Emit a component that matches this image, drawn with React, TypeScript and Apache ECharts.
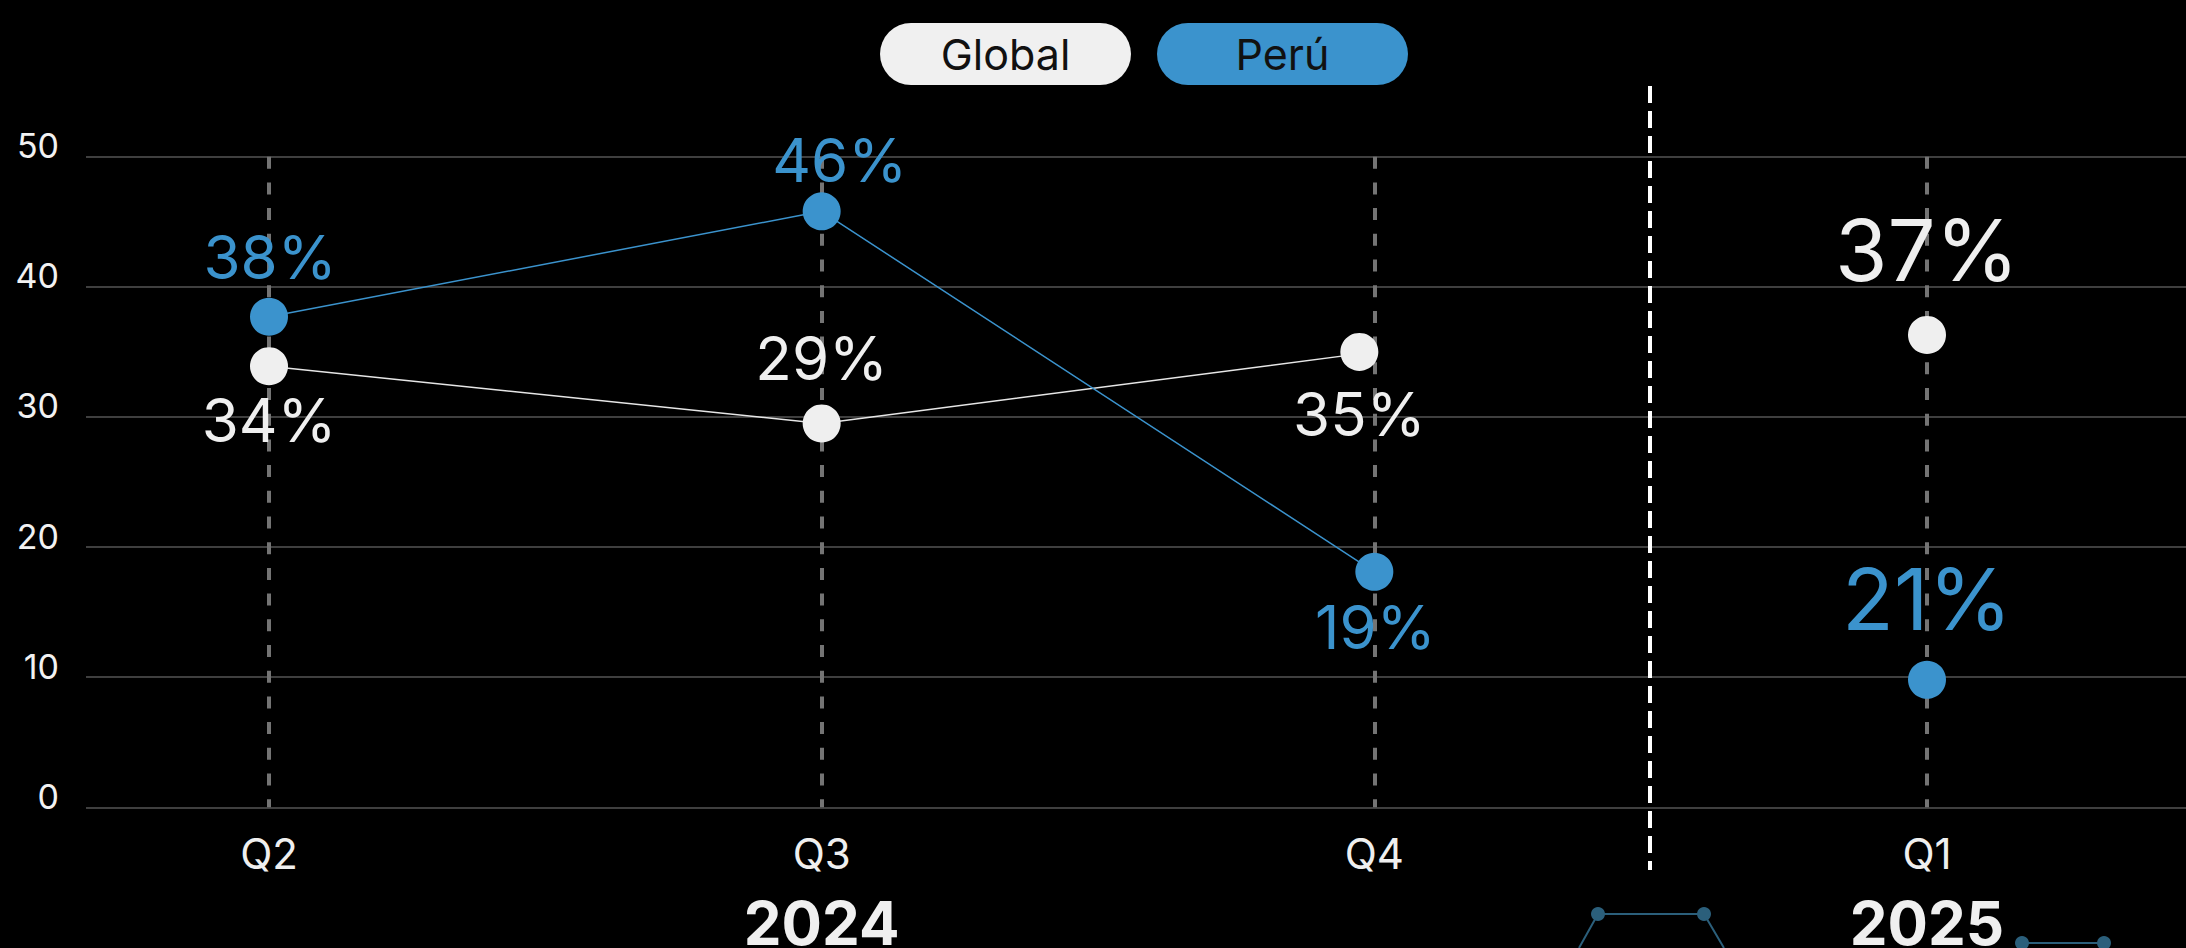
import React, { useEffect, useRef } from "react";
import * as echarts from "echarts";

// ---- data ----
const quarters = ["Q2", "Q3", "Q4", "Q1"];
const years = ["", "2024", "", "2025"];
const yTicks = [0, 10, 20, 30, 40, 50];
const globalTrend: (number | null)[] = [33.9, 29.5, 35.0, null];
const globalLatest: (number | null)[] = [null, null, null, 36.3];
const peruTrend: (number | null)[] = [37.7, 45.8, 18.1, null];
const peruLatest: (number | null)[] = [null, null, null, 9.8];
const globalLabels = ["34%", "29%", "35%", "37%"];
const peruLabels = ["38%", "46%", "19%", "21%"];
const legendNames = ["Global", "Perú"];

// ---- style ----
const FONT = "Inter, 'Noto Sans', sans-serif";
const WHITE = "#efefef";
const BLUE = "#3b93cd";
const TEAL = "#2b5f7b";

type LabelLayout = { offset: number[]; fontSize: number; symbolOffset?: number[] };
const globalLayout: LabelLayout[] = [
  { offset: [0, 54], fontSize: 60 },
  { offset: [0, -65], fontSize: 60 },
  { offset: [0, 62], fontSize: 60, symbolOffset: [-15, 0] },
  { offset: [0, -84], fontSize: 85 },
];
const peruLayout: LabelLayout[] = [
  { offset: [1, -60], fontSize: 60 },
  { offset: [18, -51], fontSize: 60 },
  { offset: [1, 55], fontSize: 60 },
  { offset: [0, -80], fontSize: 85 },
];

function buildItems(vals: (number | null)[], labels: string[], layout: LabelLayout[], color: string) {
  return vals.map((v, i) => {
    if (v == null) return "-";
    const item: any = {
      value: v,
      label: {
        show: true,
        position: "inside",
        formatter: labels[i],
        offset: layout[i].offset,
        fontSize: layout[i].fontSize,
        fontFamily: FONT,
        color,
      },
    };
    if (layout[i].symbolOffset) item.symbolOffset = layout[i].symbolOffset;
    return item;
  });
}

function lineSeries(name: string, data: any[], color: string, lineColor: string, withLine: boolean) {
  return {
    name,
    type: "line",
    xAxisIndex: 1,
    yAxisIndex: 1,
    data,
    symbol: "circle",
    symbolSize: 38,
    connectNulls: false,
    lineStyle: { color: lineColor, width: withLine ? 1.5 : 0 },
    itemStyle: { color, borderWidth: 0 },
    emphasis: { disabled: true },
    z: 3,
  };
}

export default function App() {
  const ref = useRef<HTMLDivElement>(null);

  useEffect(() => {
    if (!ref.current) return;
    const chart = echarts.init(ref.current, null, { renderer: "svg" });
    const yMin = yTicks[0];
    const yMax = yTicks[yTicks.length - 1];
    const yInterval = yTicks[1] - yTicks[0];

    const pill = (bg: string) => ({
      width: 251,
      height: 62,
      lineHeight: 62,
      align: "center",
      backgroundColor: bg,
      borderRadius: 31,
      color: "#111",
      fontSize: 43,
      fontFamily: FONT,
    });

    const option: any = {
      animation: false,
      backgroundColor: "#000",
      legend: {
        data: legendNames,
        left: 875,
        top: 23,
        padding: 0,
        itemWidth: 0,
        itemHeight: 0,
        itemGap: 21,
        icon: "circle",
        selectedMode: false,
        formatter: (name: string) => `{${name === legendNames[0] ? "g" : "p"}|${name}}`,
        textStyle: { rich: { g: pill("#f0f0f0"), p: pill(BLUE) } },
      },
      grid: [
        { left: 86, right: 0, top: 156.7, bottom: 140.7, outerBoundsMode: "none", containLabel: false },
        { left: 269, right: 259, top: 156.7, bottom: 140.7, outerBoundsMode: "none", containLabel: false },
      ],
      xAxis: [
        { type: "category", gridIndex: 0, show: false, data: quarters },
        {
          type: "category",
          gridIndex: 1,
          data: quarters,
          boundaryGap: false,
          axisLine: { show: false },
          axisTick: { show: false },
          axisLabel: { color: WHITE, fontSize: 42, fontFamily: FONT, margin: 25 },
          splitLine: {
            show: true,
            lineStyle: { color: "#747474", width: 4, type: [12, 13.7] },
          },
        },
        {
          type: "category",
          gridIndex: 1,
          data: quarters,
          position: "bottom",
          boundaryGap: false,
          axisLine: { show: false },
          axisTick: { show: false },
          splitLine: { show: false },
          axisLabel: {
            color: WHITE,
            fontSize: 60,
            fontWeight: "bold",
            fontFamily: FONT,
            margin: 86,
            formatter: (_v: string, i: number) => years[i],
          },
        },
      ],
      yAxis: [
        {
          type: "value",
          gridIndex: 0,
          min: yMin,
          max: yMax,
          interval: yInterval,
          axisLine: { show: false },
          axisTick: { show: false },
          axisLabel: {
            color: "#f2f2f2",
            fontSize: 34,
            fontFamily: FONT,
            margin: 27,
            verticalAlign: "bottom",
            lineHeight: 22,
          },
          splitLine: { show: true, lineStyle: { color: "#555", width: 1.5 } },
        },
        {
          type: "value",
          gridIndex: 1,
          min: yMin,
          max: yMax,
          interval: yInterval,
          show: false,
          splitLine: { show: false },
        },
      ],
      series: [
        lineSeries(legendNames[0], buildItems(globalTrend, globalLabels, globalLayout, WHITE), WHITE, "#e6e6e6", true),
        lineSeries(legendNames[0], buildItems(globalLatest, globalLabels, globalLayout, WHITE), WHITE, "#e6e6e6", false),
        lineSeries(legendNames[1], buildItems(peruTrend, peruLabels, peruLayout, BLUE), BLUE, BLUE, true),
        lineSeries(legendNames[1], buildItems(peruLatest, peruLabels, peruLayout, BLUE), BLUE, BLUE, false),
      ],
      graphic: [
        {
          type: "line",
          shape: { x1: 1650, y1: 86, x2: 1650, y2: 870 },
          style: { stroke: "#ffffff", lineWidth: 4, lineDash: [17, 8] },
          z: 2,
        },
        {
          type: "polyline",
          shape: { points: [[1579, 948], [1598, 914], [1704, 914], [1724, 948]] },
          style: { stroke: TEAL, lineWidth: 2, fill: "none" },
        },
        { type: "circle", shape: { cx: 1598, cy: 914, r: 7 }, style: { fill: TEAL } },
        { type: "circle", shape: { cx: 1704, cy: 914, r: 7 }, style: { fill: TEAL } },
        {
          type: "line",
          shape: { x1: 2022, y1: 943, x2: 2104, y2: 943 },
          style: { stroke: TEAL, lineWidth: 2 },
        },
        { type: "circle", shape: { cx: 2022, cy: 943, r: 7 }, style: { fill: TEAL } },
        { type: "circle", shape: { cx: 2104, cy: 943, r: 7 }, style: { fill: TEAL } },
      ],
    };

    chart.setOption(option);
    return () => chart.dispose();
  }, []);

  return (
    <div
      ref={ref}
      style={{ position: "fixed", left: 0, top: 0, width: 2186, height: 948, background: "#000" }}
    />
  );
}
